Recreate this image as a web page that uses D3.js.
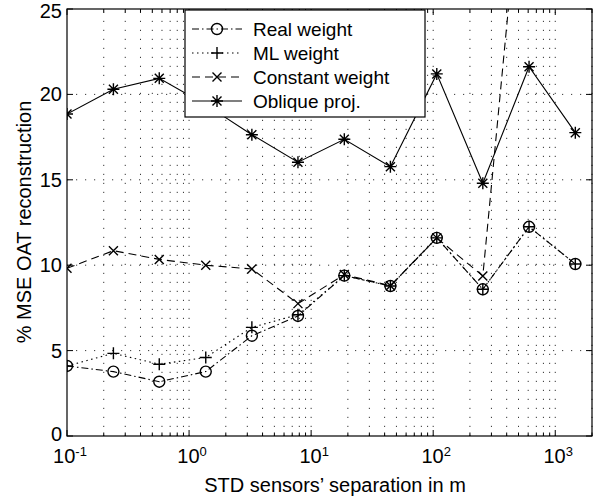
<!DOCTYPE html>
<html>
<head>
<meta charset="utf-8">
<script src="https://cdn.jsdelivr.net/npm/d3@7"></script>
<style>
body { margin: 0; background: #fff; }
svg { display: block; font-family: "Liberation Sans", Arial, sans-serif; }
</style>
</head>
<body>
<div id="chart"></div>
<script>

// sensor separation (m), log spaced
var separation = [0.1, 0.24, 0.57, 1.37, 3.27, 7.8, 18.7, 44.6, 107, 255, 610, 1460];

// % MSE for each method
var realWeight = [4.1, 3.77, 3.18, 3.77, 5.87, 7.03, 9.39, 8.78, 11.6, 8.59, 12.25, 10.07];
var mlWeight = [4.1, 4.84, 4.2, 4.6, 6.36, 7.1, 9.39, 8.78, 11.6, 8.59, 12.25, 10.07];
var constWeight = [9.82, 10.85, 10.34, 10.0, 9.78, 7.75, 9.45, 8.8, 11.6, 9.37, 37.7, 40.5];
var obliqueProj = [18.85, 20.3, 20.94, 19.4, 17.64, 16.03, 17.37, 15.77, 21.2, 14.8, 21.62, 17.76];

var seriesNames = ["Real weight", "ML weight", "Constant weight", "Oblique proj."];

var yTicks = [0, 5, 10, 15, 20, 25];
var xTicks = [0.1, 1, 10, 100, 1000];
var xTickExp = ["-1", "0", "1", "2", "3"];

var W = 597, H = 499;
var margin = {top: 9, left: 67, right: 5, bottom: 63};
var width = W - margin.left - margin.right,
    height = H - margin.top - margin.bottom;

var svg = d3.select("#chart").append("svg")
  .attr("width", W)
  .attr("height", H);

var g = svg.append("g")
  .attr("transform", "translate(" + margin.left + "," + margin.top + ")");

var x = d3.scaleLog().domain([0.1, 2000]).range([0, width]);
var y = d3.scaleLinear().domain([0, 25]).range([height, 0]);

// minor log ticks 2..9 in each decade
var minorTicks = [];
for (var e = -1; e <= 3; e++) {
  for (var m = 1; m <= 9; m++) {
    var v = m * Math.pow(10, e);
    if (v <= 2000) minorTicks.push(v);
  }
}

g.append("defs").append("clipPath").attr("id", "clip")
  .append("rect").attr("width", width).attr("height", height);

// grid
var grid = g.append("g").attr("stroke", "#222").attr("stroke-width", 0.9)
  .attr("stroke-dasharray", "1.2,7.8");
grid.selectAll(".vg").data(minorTicks.filter(d => d > 0.1)).enter()
  .append("line")
  .attr("x1", d => x(d)).attr("x2", d => x(d))
  .attr("y1", height).attr("y2", 0);
grid.selectAll(".hg").data(yTicks.filter(d => d > 0 && d < 25)).enter()
  .append("line")
  .attr("x1", 0).attr("x2", width)
  .attr("y1", d => y(d)).attr("y2", d => y(d));

// ticks inside, all four sides
var ticks = g.append("g").attr("stroke", "#000").attr("stroke-width", 1);
minorTicks.forEach(function(d) {
  var major = xTicks.indexOf(d) >= 0;
  var len = major ? 6 : 3.5;
  ticks.append("line").attr("x1", x(d)).attr("x2", x(d)).attr("y1", height).attr("y2", height - len);
  ticks.append("line").attr("x1", x(d)).attr("x2", x(d)).attr("y1", 0).attr("y2", len);
});
yTicks.forEach(function(d) {
  ticks.append("line").attr("x1", 0).attr("x2", 6).attr("y1", y(d)).attr("y2", y(d));
  ticks.append("line").attr("x1", width).attr("x2", width - 6).attr("y1", y(d)).attr("y2", y(d));
});

// box
g.append("rect").attr("width", width).attr("height", height)
  .attr("fill", "none").attr("stroke", "#000").attr("stroke-width", 1.2);

// tick labels (top one kept inside the page, bottom one clear of the x labels)
g.selectAll(".yl").data(yTicks).enter().append("text")
  .attr("x", -5).attr("y", d => d == 0 ? y(d) + 5 : Math.max(y(d) + 7, 9))
  .attr("text-anchor", "end")
  .attr("font-size", 20)
  .text(d => d);

xTicks.forEach(function(d, i) {
  var t = g.append("text")
    .attr("x", x(d) + 3).attr("y", height + 27)
    .attr("text-anchor", "middle")
    .attr("font-size", 20);
  t.append("tspan").text("10");
  t.append("tspan").attr("dy", -7).attr("font-size", 13).text(xTickExp[i]);
});

// axis titles
svg.append("text")
  .attr("x", 335).attr("y", 492)
  .attr("text-anchor", "middle")
  .attr("font-size", 20)
  .text("STD sensors\u2019 separation in m");

svg.append("text")
  .attr("transform", "translate(31,222) rotate(-90)")
  .attr("text-anchor", "middle")
  .attr("font-size", 20)
  .text("% MSE OAT reconstruction");

// markers
function drawMarker(sel, type) {
  if (type == "circle") {
    sel.append("circle").attr("r", 5.5).attr("fill", "none");
  } else if (type == "plus") {
    sel.append("path").attr("d", "M-6,0H6M0,-6V6");
  } else if (type == "x") {
    sel.append("path").attr("d", "M-4.5,-4.5L4.5,4.5M-4.5,4.5L4.5,-4.5");
  } else if (type == "star") {
    sel.append("path").attr("d", "M-6,0H6M0,-6V6M-4.5,-4.5L4.5,4.5M-4.5,4.5L4.5,-4.5");
  }
}

var series = [
  {name: seriesNames[0], values: realWeight, dash: "7,3,1.5,3", marker: "circle"},
  {name: seriesNames[1], values: mlWeight, dash: "1.5,3.5", marker: "plus"},
  {name: seriesNames[2], values: constWeight, dash: "8,5", marker: "x"},
  {name: seriesNames[3], values: obliqueProj, dash: null, marker: "star"}
];

var line = d3.line()
  .x(d => x(d[0]))
  .y(d => y(d[1]));

var plot = g.append("g").attr("clip-path", "url(#clip)");

series.forEach(function(s) {
  var pts = separation.map((d, i) => [d, s.values[i]]);
  plot.append("path")
    .datum(pts)
    .attr("fill", "none")
    .attr("stroke", "#000")
    .attr("stroke-width", 1.1)
    .attr("stroke-dasharray", s.dash)
    .attr("d", line);
  pts.filter(p => p[1] <= 25).forEach(function(p) {
    var mk = plot.append("g")
      .attr("transform", "translate(" + x(p[0]) + "," + y(p[1]) + ")")
      .attr("stroke", "#000").attr("stroke-width", 1.4).attr("fill", "none");
    drawMarker(mk, s.marker);
  });
});

// legend
var lg = svg.append("g").attr("transform", "translate(185,10)");
lg.append("rect").attr("width", 240).attr("height", 107)
  .attr("fill", "#fff").attr("stroke", "#000").attr("stroke-width", 1.2);
series.forEach(function(s, i) {
  var cy = 19 + i * 24;
  lg.append("line")
    .attr("x1", 7).attr("x2", 57).attr("y1", cy).attr("y2", cy)
    .attr("stroke", "#000").attr("stroke-width", 1.1)
    .attr("stroke-dasharray", s.dash);
  var mk = lg.append("g").attr("transform", "translate(32," + cy + ")")
    .attr("stroke", "#000").attr("stroke-width", 1.4).attr("fill", "none");
  drawMarker(mk, s.marker);
  lg.append("text").attr("x", 68).attr("y", cy + 7)
    .attr("font-size", 19)
    .text(s.name);
});

</script>
</body>
</html>
